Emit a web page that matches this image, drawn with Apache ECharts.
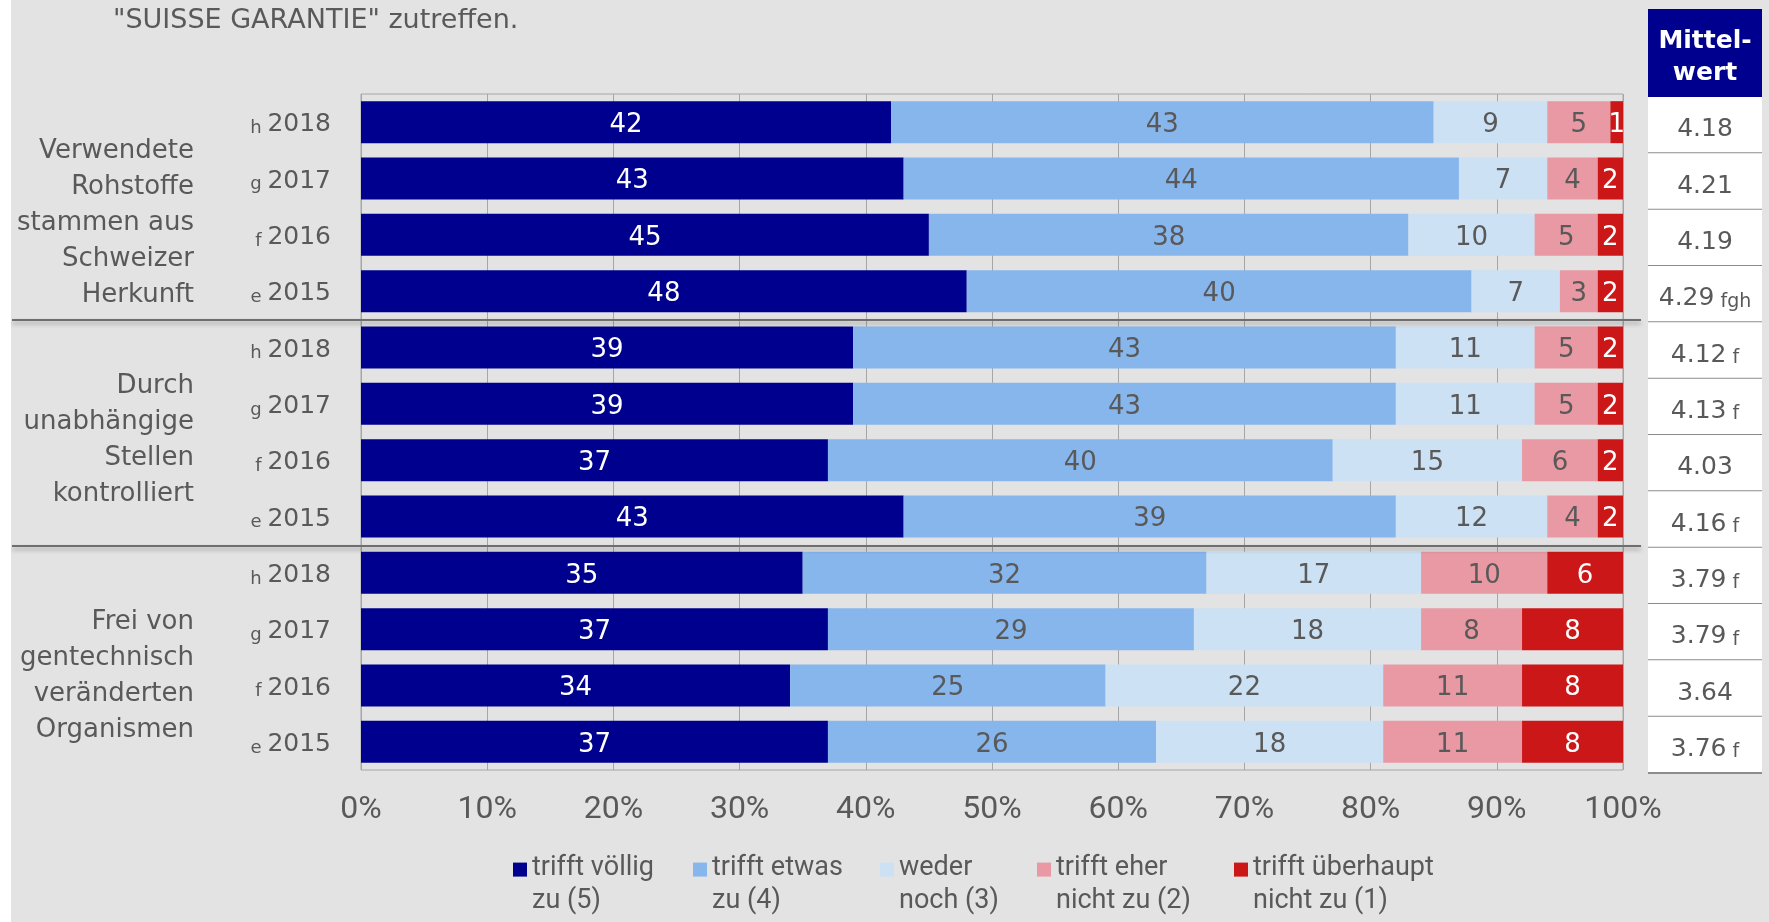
<!DOCTYPE html>
<html><head><meta charset="utf-8">
<script src="https://cdn.jsdelivr.net/npm/echarts@6/dist/echarts.min.js"></script>
<style>
html,body{margin:0;padding:0;background:#fff;overflow:hidden;}
#chart{position:absolute;left:11px;top:0;width:1758px;height:922px;background:#e3e3e3;}
</style></head><body><div id="chart"></div>
<script>
const titleText = '"SUISSE GARANTIE" zutreffen.';
const groupLabels = ['Verwendete\nRohstoffe\nstammen aus\nSchweizer\nHerkunft', 'Durch\nunabhängige\nStellen\nkontrolliert', 'Frei von\ngentechnisch\nveränderten\nOrganismen'];
const years = ['2018', '2017', '2016', '2015'];
const yearCodes = ['h', 'g', 'f', 'e'];
const seriesNames = ['trifft völlig\nzu (5)', 'trifft etwas\nzu (4)', 'weder\nnoch (3)', 'trifft eher\nnicht zu (2)', 'trifft überhaupt\nnicht zu (1)'];
const trifftVoellig = [42, 43, 45, 48, 39, 39, 37, 43, 35, 37, 34, 37];
const trifftEtwas = [43, 44, 38, 40, 43, 43, 40, 39, 32, 29, 25, 26];
const wederNoch = [9, 7, 10, 7, 11, 11, 15, 12, 17, 18, 22, 18];
const trifftEherNicht = [5, 4, 5, 3, 5, 5, 6, 4, 10, 8, 11, 11];
const trifftUeberhauptNicht = [1, 2, 2, 2, 2, 2, 2, 2, 6, 8, 8, 8];
const meanValues = [4.18, 4.21, 4.19, 4.29, 4.12, 4.13, 4.03, 4.16, 3.79, 3.79, 3.64, 3.76];
const meanSignif = ['', '', '', 'fgh', 'f', 'f', '', 'f', 'f', 'f', '', 'f'];
const meanHeader = 'Mittel-\nwert';

const FONT = "'DejaVu Sans', Verdana, sans-serif";
const NARROW = "Roboto, 'Liberation Sans', sans-serif";
const GRAY = '#595959';
const colors = ['#00008e', '#86b6ec', '#cde1f5', '#e999a3', '#cc1719'];
const labelColors = ['#ffffff', GRAY, GRAY, GRAY, '#ffffff'];
const seriesData = [trifftVoellig, trifftEtwas, wederNoch, trifftEherNicht, trifftUeberhauptNicht];
const legendLeft = [502, 682, 869, 1026, 1223];
const groupLabelSpacer = [34, 16, 38];

const rows = [];
groupLabels.forEach((g, gi) => years.forEach((y, yi) => rows.push(gi + '|' + y)));

const chart = echarts.init(document.getElementById('chart'));

function renderMeanCell(params, api) {
  const cs = params.coordSys;
  const yc = api.coord([0, api.value(1)])[1];
  const band = api.size([0, 1])[1];
  const i = params.dataIndex;
  const suf = meanSignif[i];
  const txt = '{v|' + api.value(0).toFixed(2) + '}' + (suf ? '{s| ' + suf + '}' : '');
  return {
    type: 'group',
    children: [
      { type: 'rect', shape: { x: cs.x, y: yc - band / 2, width: cs.width, height: band }, style: { fill: '#ffffff' } },
      { type: 'line', shape: { x1: cs.x, y1: yc + band / 2, x2: cs.x + cs.width, y2: yc + band / 2 }, style: { stroke: '#8c8c8c', lineWidth: 2 } },
      { type: 'text', style: { text: txt, x: cs.x + cs.width / 2, y: yc + 2, align: 'center', verticalAlign: 'middle', fill: GRAY,
          rich: { v: { fontFamily: FONT, fontSize: 25, fill: GRAY, color: GRAY, lineHeight: 30, verticalAlign: 'bottom' },
                  s: { fontFamily: FONT, fontSize: 19, fill: GRAY, color: GRAY, lineHeight: 26, verticalAlign: 'bottom' } } } }
    ]
  };
}

const groupRich = {};
groupLabelSpacer.forEach((h, i) => { groupRich['p' + i] = { fontSize: 1, lineHeight: h }; });

const option = {
  backgroundColor: '#e3e3e3',
  animation: false,
  title: { text: titleText, left: 102, top: 7, padding: 0,
    textStyle: { fontFamily: FONT, fontSize: 27, fontWeight: 'normal', color: GRAY } },
  grid: [
    { left: 350, top: 94, width: 1262, height: 676, show: true, borderColor: '#a6a6a6', borderWidth: 1,
      backgroundColor: 'transparent', outerBoundsMode: 'none', containLabel: false },
    { left: 1637, top: 97, width: 114, height: 676, outerBoundsMode: 'none', containLabel: false }
  ],
  xAxis: [
    { type: 'value', gridIndex: 0, min: 0, max: 100, interval: 10,
      axisLine: { show: false }, axisTick: { show: false },
      splitLine: { show: true, lineStyle: { color: '#a6a6a6', width: 1 } },
      axisLabel: { formatter: '{value}%', margin: 24, fontFamily: NARROW, fontSize: 32, color: GRAY } },
    { type: 'value', gridIndex: 1, min: 0, max: 5, show: false }
  ],
  yAxis: [
    { type: 'category', gridIndex: 0, position: 'left', data: rows, inverse: true,
      axisLine: { show: false }, axisTick: { show: false }, splitLine: { show: false },
      axisLabel: { margin: 30, align: 'right',
        formatter: (v, i) => '{c|' + yearCodes[i % 4] + ' }{y|' + years[i % 4] + '}',
        rich: { c: { fontFamily: FONT, fontSize: 18, color: GRAY, lineHeight: 25, verticalAlign: 'bottom' },
                y: { fontFamily: FONT, fontSize: 25, color: GRAY, lineHeight: 30, verticalAlign: 'bottom' } } } },
    { type: 'category', gridIndex: 0, position: 'left', offset: 0, inverse: true,
      data: groupLabels,
      axisLine: { show: false }, axisTick: { show: false }, splitLine: { show: false },
      axisLabel: { margin: 167, align: 'right', fontFamily: FONT, fontSize: 26, color: GRAY, lineHeight: 36,
        formatter: (v, i) => '{p' + i + '| }\n' + v, rich: groupRich } },
    { type: 'category', gridIndex: 1, data: rows, inverse: true, show: false }
  ],
  legend: seriesNames.map((n, i) => ({
    data: [n], left: legendLeft[i], top: 852, padding: 0, itemGap: 0, selectedMode: false,
    itemWidth: 14, itemHeight: 44.8, icon: 'path://M0,0h10v10h-10zM0,32',
    textStyle: { fontFamily: NARROW, fontSize: 27, color: GRAY, lineHeight: 33 }
  })),
  series: seriesNames.map((n, i) => ({
    name: n, type: 'bar', stack: 'total', xAxisIndex: 0, yAxisIndex: 0,
    barWidth: 42, data: seriesData[i],
    itemStyle: { color: colors[i] },
    label: { show: true, position: 'inside', offset: [0, 3], formatter: '{c}', fontFamily: FONT, fontSize: 26, color: labelColors[i] }
  })).concat([{
    type: 'custom', xAxisIndex: 1, yAxisIndex: 2,
    data: meanValues.map((m, i) => [m, i]),
    encode: { x: 0, y: 1 },
    renderItem: renderMeanCell
  }]),
  graphic: [
    { type: 'group', left: 1637, top: 9, children: [
      { type: 'rect', shape: { x: 0, y: 0, width: 114, height: 90 }, style: { fill: '#00008e' } },
      { type: 'text', style: { text: meanHeader, x: 57, y: 48, align: 'center', verticalAlign: 'middle',
        fontFamily: FONT, fontWeight: 'bold', fontSize: 25, lineHeight: 32, fill: '#ffffff' } }
    ] }
  ]
};
chart.setOption(option);

// group separator lines at category boundaries between groups
const seps = [];
[4, 8].forEach((k, j) => {
  const a = chart.convertToPixel({ yAxisIndex: 0 }, k - 1);
  const b = chart.convertToPixel({ yAxisIndex: 0 }, k);
  const y = Math.round((a + b) / 2) + 1;
  seps.push({ type: 'line', id: 'sep' + j, z: 50, shape: { x1: 1, y1: y, x2: 1630, y2: y },
    style: { stroke: '#6e6e6e', lineWidth: 2, shadowColor: 'rgba(0,0,0,0.3)', shadowBlur: 4, shadowOffsetY: 3 } });
});
chart.setOption({ graphic: option.graphic.concat(seps) });
</script></body></html>
